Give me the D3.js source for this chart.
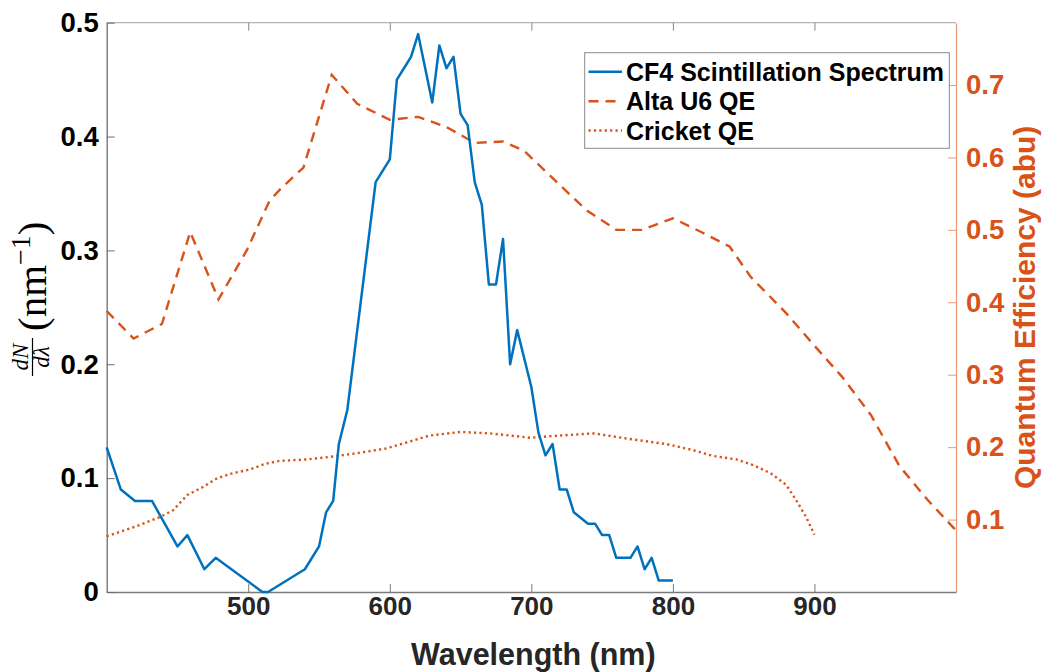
<!DOCTYPE html>
<html><head><meta charset="utf-8">
<script src="https://cdn.jsdelivr.net/npm/d3@7"></script>
<style>
html,body{margin:0;padding:0;background:#fff;}
svg{display:block;}
</style></head>
<body>
<svg id="chart" width="1046" height="672"></svg>
<script>
// ---- data ----
const cf4Wavelength = [400,410,420,432,450,457,469,477,510,514,540,550,555,560,564,570,590,600,605,610,615,620,630,635,640,645,650,655,660,665,670,675,680,685,690,700,705,710,715,720,725,730,740,745,750,755,760,770,775,780,785,790,800];
const cf4Spectrum = [0.127,0.09,0.08,0.08,0.04,0.05,0.02,0.03,0,0,0.02,0.04,0.07,0.08,0.13,0.16,0.36,0.38,0.45,0.46,0.47,0.49,0.43,0.48,0.46,0.47,0.42,0.41,0.36,0.34,0.27,0.27,0.31,0.2,0.23,0.18,0.14,0.12,0.13,0.09,0.09,0.07,0.06,0.06,0.05,0.05,0.03,0.03,0.04,0.02,0.03,0.01,0.01];

const altaWavelength = [400,419,439,459,479,499,515,523,539,559,577,600,620,640,660,680,695,718,739,760,778,800,820,840,855,880,900,920,940,960,980,1000];
const altaQE = [0.388,0.35,0.37,0.497,0.404,0.472,0.54,0.557,0.586,0.714,0.674,0.652,0.656,0.642,0.62,0.622,0.609,0.566,0.527,0.5,0.5,0.516,0.497,0.477,0.435,0.385,0.34,0.296,0.244,0.174,0.127,0.085];

const cricketWavelength = [400,420,437,447,457,468,478,489,501,512,522,541,560,578,597,611,628,650,671,699,720,744,767,796,814,828,845,857,869,880,887,894,900];
const cricketQE = [0.077,0.09,0.103,0.113,0.134,0.145,0.157,0.164,0.169,0.177,0.181,0.183,0.187,0.192,0.198,0.206,0.216,0.221,0.219,0.213,0.216,0.219,0.212,0.204,0.196,0.188,0.183,0.175,0.164,0.148,0.127,0.104,0.079];

const xTicks = [500,600,700,800,900];
const yLeftTicks = [0,0.1,0.2,0.3,0.4,0.5];
const yRightTicks = [0.1,0.2,0.3,0.4,0.5,0.6,0.7];
const legendLabels = ["CF4 Scintillation Spectrum","Alta U6 QE","Cricket QE"];

// ---- layout ----
const blue = "#0072BD", orange = "#D95319";
const L = 106.7, R = 956, T = 22.7, B = 592;
const svg = d3.select("#chart");
const x = d3.scaleLinear().domain([400,1000]).range([L,R]);
const yL = d3.scaleLinear().domain([0,0.5]).range([B,T]);
const yR = d3.scaleLinear().domain([0,0.786]).range([B,T]);
const tickFont = "Liberation Sans, Arial, Helvetica, sans-serif";

// top border
svg.append("line").attr("x1",L).attr("x2",R).attr("y1",T).attr("y2",T)
  .attr("stroke","#b4b4b4").attr("stroke-width",1.2);
const topAx = svg.append("g").attr("transform",`translate(0,${T})`)
  .call(d3.axisTop(x).tickValues(xTicks).tickSizeInner(-8).tickSizeOuter(0).tickFormat(""));
topAx.select(".domain").remove();
topAx.selectAll("line").attr("stroke","#888");

// bottom axis
const bot = svg.append("g").attr("transform",`translate(0,${B})`)
  .call(d3.axisBottom(x).tickValues(xTicks).tickSizeInner(-8).tickSizeOuter(0).tickPadding(5).tickFormat(d3.format("d")));
bot.select(".domain").attr("stroke","#7a7a7a").attr("stroke-width",1.3);
bot.selectAll("line").attr("stroke","#7a7a7a");
bot.selectAll("text").attr("font-family",tickFont).attr("font-weight","bold")
  .attr("font-size",26).attr("fill","#262626");

// left axis
const lef = svg.append("g").attr("transform",`translate(${L},0)`)
  .call(d3.axisLeft(yL).tickValues(yLeftTicks).tickSizeInner(-8).tickSizeOuter(0).tickPadding(8)
    .tickFormat(d => d===0 ? "0" : d.toFixed(1)));
lef.select(".domain").attr("stroke","#6e6e6e").attr("stroke-width",1.3);
lef.selectAll("line").attr("stroke","#6e6e6e");
lef.selectAll("text").attr("font-family",tickFont).attr("font-weight","bold")
  .attr("font-size",27.5).attr("fill","#000");

// right axis
const rig = svg.append("g").attr("transform",`translate(${R},0)`)
  .call(d3.axisRight(yR).tickValues(yRightTicks).tickSizeInner(-8).tickSizeOuter(0).tickPadding(10)
    .tickFormat(d => d.toFixed(1)));
rig.select(".domain").attr("stroke","#ee9b78").attr("stroke-width",1.3);
rig.selectAll("line").attr("stroke","#ee9b78");
rig.selectAll("text").attr("font-family",tickFont).attr("font-weight","bold")
  .attr("font-size",27.5).attr("fill",orange);

// ---- lines ----
const lineL = d3.line().x(d=>x(d[0])).y(d=>yL(d[1]));
const lineR = d3.line().x(d=>x(d[0])).y(d=>yR(d[1]));
const plot = svg.append("g");
plot.append("path").datum(cricketWavelength.map((w,i)=>[w,cricketQE[i]]))
  .attr("d",lineR).attr("fill","none").attr("stroke",orange).attr("stroke-width",2.4)
  .attr("stroke-dasharray","2.2,3.2");
plot.append("path").datum(altaWavelength.map((w,i)=>[w,altaQE[i]]))
  .attr("d",lineR).attr("fill","none").attr("stroke",orange).attr("stroke-width",2.4)
  .attr("stroke-dasharray","10,7");
plot.append("path").datum(cf4Wavelength.map((w,i)=>[w,cf4Spectrum[i]]))
  .attr("d",lineL).attr("fill","none").attr("stroke",blue).attr("stroke-width",2.5)
  .attr("stroke-linejoin","round");

// ---- legend ----
const lg = svg.append("g");
lg.append("rect").attr("x",584.7).attr("y",52.7).attr("width",364.6).attr("height",95.6)
  .attr("fill","#fff").attr("stroke","#8a8a8a").attr("stroke-width",1);
const rowY = [71.7,101.3,130.5];
const styles = [{c:blue,d:null},{c:orange,d:"10,7"},{c:orange,d:"2.2,3.2"}];
legendLabels.forEach((lab,i)=>{
  lg.append("line").attr("x1",588.5).attr("x2",622).attr("y1",rowY[i]).attr("y2",rowY[i])
    .attr("stroke",styles[i].c).attr("stroke-width",2.4).attr("stroke-dasharray",styles[i].d);
  lg.append("text").attr("x",626).attr("y",rowY[i]).attr("dy","0.36em")
    .attr("font-family",tickFont).attr("font-weight","bold").attr("font-size",25)
    .attr("fill","#000").text(lab);
});

// ---- axis titles ----
svg.append("text").attr("x",(L+R)/2+2).attr("y",665).attr("text-anchor","middle")
  .attr("font-family",tickFont).attr("font-weight","bold").attr("font-size",30.5)
  .attr("fill","#262626").text("Wavelength (nm)");

svg.append("text").attr("transform",`translate(1035,${(T+B)/2}) rotate(-90)`)
  .attr("text-anchor","middle").attr("font-family",tickFont).attr("font-weight","bold")
  .attr("font-size",30).attr("fill",orange).text("Quantum Efficiency (abu)");

// left math label: dN/dλ (nm^-1)
const serif = "Liberation Serif, Times New Roman, serif";
const ml = svg.append("g").attr("transform",`translate(46,0) rotate(-90)`);
ml.append("text").attr("x",-357).attr("y",-18).attr("text-anchor","middle")
  .attr("font-family",serif).attr("font-style","italic").attr("font-size",23).text("dN");
ml.append("line").attr("x1",-376).attr("x2",-338).attr("y1",-13.5).attr("y2",-13.5)
  .attr("stroke","#000").attr("stroke-width",1.2);
ml.append("text").attr("x",-357).attr("y",3).attr("text-anchor","middle")
  .attr("font-family",serif).attr("font-style","italic").attr("font-size",23).text("dλ");
const mt = ml.append("text").attr("x",-331).attr("y",0).attr("font-family",serif).attr("font-size",41);
mt.append("tspan").text("(nm");
mt.append("tspan").attr("dy",-16).attr("font-size",28).text("−1");
mt.append("tspan").attr("dy",16).text(")");
</script>
</body></html>
